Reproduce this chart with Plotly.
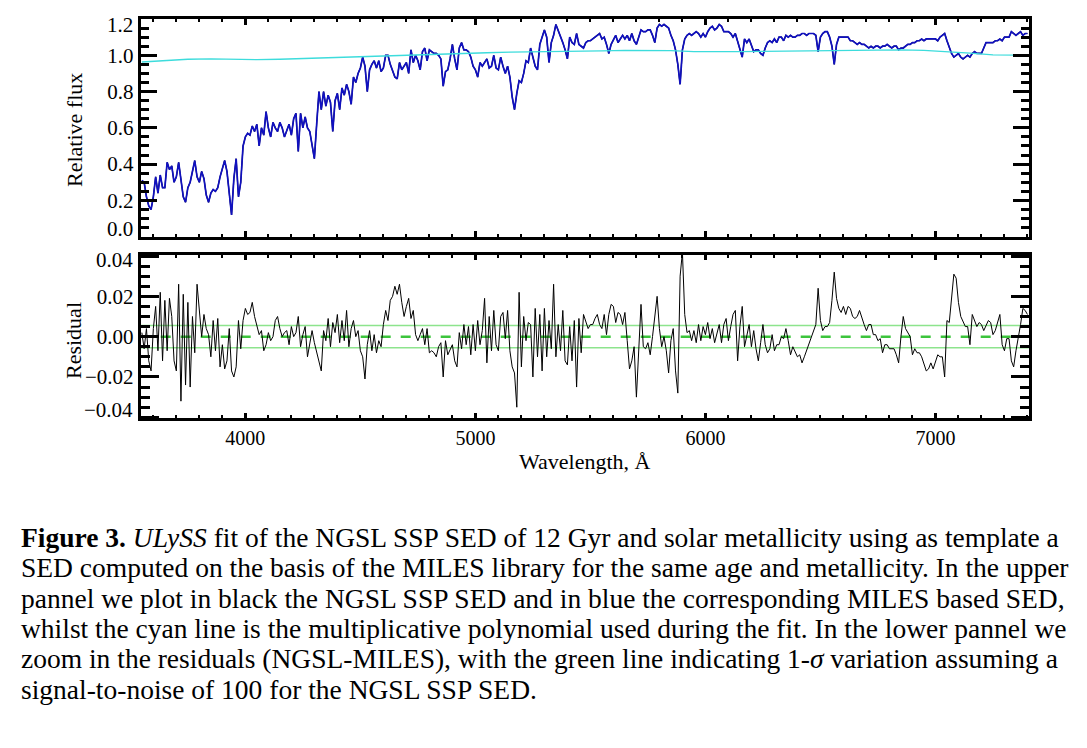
import numpy as np
import plotly.graph_objects as go

W, H = 1087, 748
SERIF = "Liberation Serif"

# spectra are sampled every 10 A from 3550 to 7400 A
wave_start, wave_step, wave_end = 3550, 10, 7400
wave = np.arange(wave_start, wave_end + 1, wave_step)

# MILES based SED (blue)
miles_flux = [
    0.31, 0.30, 0.22, 0.17, 0.15, 0.22, 0.33, 0.24, 0.34, 0.27,
    0.27, 0.41, 0.37, 0.39, 0.30, 0.33, 0.41, 0.30, 0.22, 0.19,
    0.27, 0.30, 0.37, 0.42, 0.33, 0.30, 0.36, 0.32, 0.23, 0.19,
    0.24, 0.26, 0.25, 0.27, 0.33, 0.38, 0.42, 0.36, 0.22, 0.12,
    0.32, 0.43, 0.22, 0.30, 0.50, 0.55, 0.57, 0.56, 0.61, 0.58,
    0.62, 0.50, 0.60, 0.56, 0.69, 0.60, 0.55, 0.63, 0.60, 0.58,
    0.63, 0.60, 0.55, 0.58, 0.62, 0.56, 0.65, 0.68, 0.47, 0.68,
    0.60, 0.66, 0.60, 0.58, 0.50, 0.43, 0.62, 0.80, 0.70, 0.80,
    0.72, 0.78, 0.74, 0.58, 0.75, 0.79, 0.70, 0.82, 0.78, 0.84,
    0.80, 0.73, 0.88, 0.85, 0.90, 0.93, 0.99, 0.94, 0.80, 0.92,
    0.95, 0.97, 0.93, 0.97, 0.91, 0.93, 1.00, 1.00, 0.95, 0.92,
    0.88, 0.87, 0.96, 0.92, 0.94, 0.96, 0.90, 1.03, 0.96, 1.00,
    0.97, 0.92, 1.02, 1.04, 0.97, 1.03,
    1.02, 1.01, 1.01, 1.00, 0.98, 0.83, 0.91, 0.92, 0.98, 1.06,
    0.98, 0.92, 1.04, 1.07, 1.03, 1.03, 1.02, 0.99, 0.94, 0.92,
    0.88, 0.96, 0.94, 0.96, 0.98, 0.93, 0.94, 1.00, 0.93, 0.92,
    0.99, 0.94, 0.90, 0.94, 0.88, 0.77, 0.70, 0.79, 0.86, 0.85,
    0.90, 0.97, 0.96, 1.04, 0.99, 0.94, 0.92, 1.06, 1.10, 1.14,
    1.10, 0.96, 1.07, 1.11, 1.17, 1.14, 1.10, 1.07, 1.03, 0.98,
    1.10, 1.07, 1.06, 1.12, 1.06, 1.05, 1.04, 1.07, 1.08, 1.08,
    1.09, 1.10, 1.11, 1.12, 1.09, 1.10, 1.06, 1.01, 1.06, 1.09,
    1.11, 1.07, 1.09, 1.11, 1.09, 1.11, 1.08, 1.12, 1.08, 1.06,
    1.10, 1.14, 1.13, 1.13, 1.14, 1.14, 1.11, 1.07, 1.15, 1.17,
    1.16, 1.17, 1.16, 1.15, 1.11, 1.08, 1.03, 0.95, 0.84, 1.03,
    1.09, 1.11, 1.12, 1.11, 1.12, 1.13, 1.12, 1.10, 1.12, 1.10,
    1.13, 1.15, 1.16, 1.14, 1.15, 1.17, 1.16, 1.13,
    1.13, 1.13, 1.12, 1.10, 1.12, 1.08, 1.04, 0.99, 1.09, 1.07,
    1.09, 1.05, 1.02, 1.03, 1.03, 1.01, 1.00, 1.04, 1.07, 1.08,
    1.07, 1.09, 1.07, 1.10, 1.10, 1.08, 1.11, 1.10, 1.11, 1.10,
    1.10, 1.11, 1.11, 1.12, 1.12, 1.11, 1.12, 1.12, 1.12, 1.11,
    1.02, 1.10, 1.12, 1.13, 1.13, 1.10, 1.05, 0.95, 1.06, 1.10,
    1.10, 1.10, 1.10, 1.10, 1.08, 1.08, 1.07, 1.06, 1.07, 1.06,
    1.06, 1.05, 1.04, 1.05, 1.04, 1.05, 1.05, 1.04, 1.05, 1.05,
    1.06, 1.05, 1.04, 1.05, 1.05, 1.03, 1.04, 1.04, 1.05, 1.06,
    1.06, 1.07, 1.07, 1.08, 1.08, 1.09, 1.08, 1.09, 1.09, 1.09,
    1.09, 1.09, 1.08, 1.10, 1.11, 1.12, 1.08, 1.04, 1.01, 0.99,
    1.00, 1.01, 0.99, 0.98, 0.99, 1.00, 0.99, 1.01, 1.02, 1.01,
    1.01, 1.01, 1.04, 1.07, 1.07, 1.07, 1.07, 1.08, 1.08, 1.09,
    1.08, 1.10, 1.10, 1.10, 1.13, 1.12, 1.11, 1.12, 1.13, 1.11,
    1.12, 1.12,
]

# NGSL SED (black) lies under the blue curve everywhere in the upper panel
ngsl_flux = miles_flux

# residual NGSL-MILES
residual = [
    0.002, -0.006, 0.004, -0.012, -0.017, 0.004, 0.015, -0.007, 0.022, -0.012,
    0.018, -0.007, 0.019, 0.010, -0.012, -0.017, 0.026, -0.032, 0.021, -0.024,
    0.017, -0.025, 0.010, -0.008, 0.026, 0.013, 0.000, 0.011, 0.004, 0.001,
    -0.010, 0.008, -0.007, 0.009, -0.015, -0.004, -0.016, -0.012, 0.004, -0.017,
    -0.020, -0.015, 0.008, -0.006, 0.008, 0.014, 0.011, 0.012, 0.017, 0.010,
    0.005, 0.001, 0.003, -0.007, -0.004, 0.002, -0.002, 0.000, 0.008, 0.010,
    0.004, 0.000, 0.002, 0.003, -0.004, 0.005, 0.000, 0.002, 0.010, -0.005,
    0.001, 0.005, -0.010, -0.004, 0.003, -0.003, -0.008, -0.012, -0.017, 0.003,
    -0.002, 0.009, -0.005, 0.007, 0.002, 0.011, -0.003, 0.008, -0.002, 0.013,
    -0.005, 0.004, 0.008, 0.000, 0.003, -0.007, -0.010, -0.021, -0.004, 0.003,
    -0.007, 0.001, -0.008, -0.002, -0.005, 0.006, 0.013, 0.008, 0.018, 0.020,
    0.025, 0.021, 0.026, 0.017, 0.010, 0.015, 0.019, 0.009, 0.013, 0.001,
    -0.002, 0.001, 0.004, -0.004, 0.004, -0.008, -0.007, -0.008, -0.010, -0.005,
    -0.003, -0.020, -0.002, -0.009, -0.006, -0.004, -0.012, -0.015, 0.002, -0.006,
    0.006, -0.004,
    0.005, -0.009, 0.006, -0.007, 0.008, -0.004, 0.003, 0.019, -0.013, 0.010,
    -0.007, 0.013, -0.004, -0.007, 0.010, 0.012, -0.001, 0.013, -0.007, -0.015,
    -0.018, -0.035, 0.022, -0.015, 0.010, -0.002, 0.007, 0.006, -0.020, 0.014,
    -0.010, 0.011, -0.017, 0.014, -0.010, 0.008, -0.006, 0.026, -0.010, 0.006,
    -0.007, 0.013, -0.012, -0.014, 0.005, -0.012, 0.008, -0.025, 0.009, -0.008,
    0.011, 0.008, 0.004, 0.006, 0.006, 0.009, 0.011, 0.006, 0.004, 0.011,
    0.001, 0.011, 0.016, 0.015, 0.007, 0.012, 0.011, 0.006, 0.012, -0.002,
    -0.016, -0.012, -0.005, -0.030, -0.010, 0.016, -0.005, -0.006, -0.003, -0.009,
    0.000, 0.010, 0.020, 0.004, -0.005, 0.000, -0.007, -0.018, -0.002, 0.004,
    -0.017, -0.028, 0.030, 0.042, 0.011, 0.002, 0.003, -0.002, 0.003, -0.003,
    0.006, -0.002, 0.005, 0.001, 0.007, -0.001, 0.004, -0.003, 0.002, 0.006,
    -0.003, 0.006, 0.009, -0.002, 0.005, 0.011, 0.013, -0.012, 0.005, 0.015,
    -0.005, 0.000, 0.006, -0.005, 0.003, -0.006, -0.012, -0.003, 0.006, -0.004,
    -0.008, -0.006, 0.001, -0.007, -0.004, -0.004, 0.000, -0.001, 0.004, -0.002,
    -0.009, -0.005, -0.008, -0.010, -0.009, -0.013, -0.010, -0.007, -0.004, -0.001,
    0.002, 0.006, 0.024, 0.008, 0.003, 0.005, 0.005, 0.007, 0.018, 0.032,
    0.019, 0.014, 0.012, 0.015, 0.011, 0.015, 0.014, 0.010, 0.009, 0.010,
    0.013, 0.009, 0.006, 0.003, 0.006, 0.006, 0.001, 0.001, -0.002, -0.001,
    -0.008, -0.004, -0.004, -0.006, -0.006, -0.006, -0.009, -0.013, 0.000, 0.010,
    0.004, 0.002, 0.000, -0.009, -0.006, -0.008, -0.008, -0.010, -0.013, -0.017,
    -0.016, -0.013, -0.016, -0.012, -0.009, -0.010, -0.010, -0.020, 0.008, 0.007,
    0.018, 0.031, 0.029, 0.017, 0.010, 0.007, 0.005, 0.005, -0.004, 0.011,
    0.008, 0.005, 0.007, 0.006, 0.003, 0.006, 0.008, 0.007, 0.001, 0.003,
    0.007, 0.011, -0.004, -0.007, -0.001, -0.001, -0.012, -0.015, -0.007, -0.001,
    0.006, 0.014, 0.013, 0.011,
]

# multiplicative polynomial (cyan)
poly_wave = [3550, 3650, 3750, 3850, 3950, 4050, 4150, 4250, 4350, 4450,
             4550, 4650, 4750, 4850, 4950, 5050, 5150, 5250, 5350, 5450,
             5550, 5650, 5750, 5850, 5950, 6050, 6150, 6250, 6350, 6450,
             6550, 6650, 6750, 6850, 6950, 7050, 7150, 7250, 7350, 7408]
poly_val = [0.963, 0.972, 0.978, 0.980, 0.977, 0.976, 0.978, 0.982, 0.988, 0.994,
            0.998, 1.002, 1.005, 1.008, 1.010, 1.014, 1.017, 1.018, 1.019, 1.021,
            1.024, 1.027, 1.028, 1.026, 1.020, 1.019, 1.020, 1.022, 1.023, 1.025,
            1.027, 1.030, 1.031, 1.030, 1.027, 1.021, 1.012, 1.002, 0.999, 1.001]

# 1-sigma level for S/N = 100 (green)
sigma_level = 0.0055

xrange = [3545, 7408]

flux_ticks = [0.0, 0.2, 0.4, 0.6, 0.8, 1.0, 1.2]
flux_labels = ["", "0.2", "0.4", "0.6", "0.8", "1.0", ""]
res_ticks = [-0.04, -0.02, 0.0, 0.02, 0.04]
res_labels = ["", "−0.02", "0.00", "0.02", ""]
# end labels sit a little inside the frame, as in the original
end_labels = [("1.2", 25), ("0.0", 229), ("0.04", 260), ("−0.04", 410)]

caption = [
    "<b>Figure 3.</b> <i>ULySS</i> fit of the NGSL SSP SED of 12 Gyr and solar metallicity using as template a",
    "SED computed on the basis of the MILES library for the same age and metallicity. In the upper",
    "pannel we plot in black the NGSL SSP SED and in blue the corresponding MILES based SED,",
    "whilst the cyan line is the multiplicative polynomial used during the fit. In the lower pannel we",
    "zoom in the residuals (NGSL-MILES), with the green line indicating 1-<i>σ</i> variation assuming a",
    "signal-to-noise of 100 for the NGSL SSP SED.",
]
caption_y = [537, 567, 598, 628, 658, 689]


def px_x(p):
    return p / W


def px_y(p):
    return 1 - p / H


fig = go.Figure()

fig.add_trace(go.Scatter(x=wave, y=ngsl_flux, mode="lines",
                         line=dict(color="black", width=1.2),
                         xaxis="x", yaxis="y"))
fig.add_trace(go.Scatter(x=wave, y=miles_flux, mode="lines",
                         line=dict(color="#1010c0", width=1.7),
                         xaxis="x", yaxis="y"))
fig.add_trace(go.Scatter(x=poly_wave, y=poly_val, mode="lines",
                         line=dict(color="#3ddcdc", width=1.3),
                         xaxis="x", yaxis="y"))

for lvl in (sigma_level, -sigma_level):
    fig.add_trace(go.Scatter(x=xrange, y=[lvl, lvl], mode="lines",
                             line=dict(color="#8de48d", width=1.6),
                             xaxis="x2", yaxis="y2"))
fig.add_trace(go.Scatter(x=xrange, y=[0, 0], mode="lines",
                         line=dict(color="#3cc43c", width=2.5, dash="10px,10px"),
                         xaxis="x2", yaxis="y2"))
fig.add_trace(go.Scatter(x=wave, y=residual, mode="lines",
                         line=dict(color="black", width=1),
                         xaxis="x2", yaxis="y2"))

frame = dict(showline=True, linewidth=3, linecolor="black", mirror="allticks",
             ticks="inside", tickcolor="black", tickwidth=2.5,
             showgrid=False, zeroline=False, automargin=False)
xfont = dict(family=SERIF, size=20, color="black")
yfont = dict(family=SERIF, size=21, color="black")
xdom = [px_x(140.7), px_x(1029.3)]

fig.update_layout(
    width=W, height=H, autosize=False,
    paper_bgcolor="white", plot_bgcolor="white",
    margin=dict(l=0, r=0, t=0, b=0, autoexpand=False),
    showlegend=False,
    xaxis=dict(frame, domain=xdom, range=xrange, dtick=1000, tick0=0,
               ticklen=6, showticklabels=False, anchor="y",
               minor=dict(ticks="inside", dtick=100, ticklen=3, tickwidth=2,
                          tickcolor="black", showgrid=False)),
    yaxis=dict(frame, domain=[px_y(236.7), px_y(19)], range=[0, 1.2],
               tickvals=flux_ticks, ticktext=flux_labels, tickfont=yfont,
               ticklen=16, anchor="x",
               minor=dict(ticks="inside", dtick=0.05, ticklen=8, tickwidth=2.5,
                          tickcolor="black", showgrid=False)),
    xaxis2=dict(frame, domain=xdom, range=xrange, dtick=1000, tick0=0,
                ticklen=5, anchor="y2", tickfont=xfont,
                minor=dict(ticks="inside", dtick=100, ticklen=3, tickwidth=2,
                           tickcolor="black", showgrid=False)),
    yaxis2=dict(frame, domain=[px_y(418.3), px_y(255)], range=[-0.0405, 0.0405],
                tickvals=res_ticks, ticktext=res_labels, tickfont=yfont,
                ticklen=18, anchor="x2",
                minor=dict(ticks="inside", dtick=0.005, ticklen=9, tickwidth=2.5,
                           tickcolor="black", showgrid=False)),
)

for txt, py in end_labels:
    fig.add_annotation(text=txt, x=px_x(135), y=px_y(py),
                       xref="paper", yref="paper", showarrow=False,
                       xanchor="right", yanchor="middle", font=yfont)

titlefont = dict(family=SERIF, size=22, color="black")
fig.add_annotation(text="Relative flux", x=px_x(74), y=px_y(130), textangle=-90,
                   xref="paper", yref="paper", showarrow=False,
                   xanchor="center", yanchor="middle", font=titlefont)
fig.add_annotation(text="Residual", x=px_x(74), y=px_y(341), textangle=-90,
                   xref="paper", yref="paper", showarrow=False,
                   xanchor="center", yanchor="middle", font=titlefont)
fig.add_annotation(text="Wavelength, Å", x=px_x(585), y=px_y(461),
                   xref="paper", yref="paper", showarrow=False,
                   xanchor="center", yanchor="middle", font=titlefont)

for line, cy in zip(caption, caption_y):
    fig.add_annotation(text=line, x=px_x(19), y=px_y(cy),
                       xref="paper", yref="paper", showarrow=False,
                       xanchor="left", yanchor="middle",
                       font=dict(family=SERIF, size=27.5, color="black"))

# page body without the browser's default margin, so the figure sits at 0,0
fig.write_html("out.html", config={"displayModeBar": False},
               post_script="document.body.style.margin='0';")
